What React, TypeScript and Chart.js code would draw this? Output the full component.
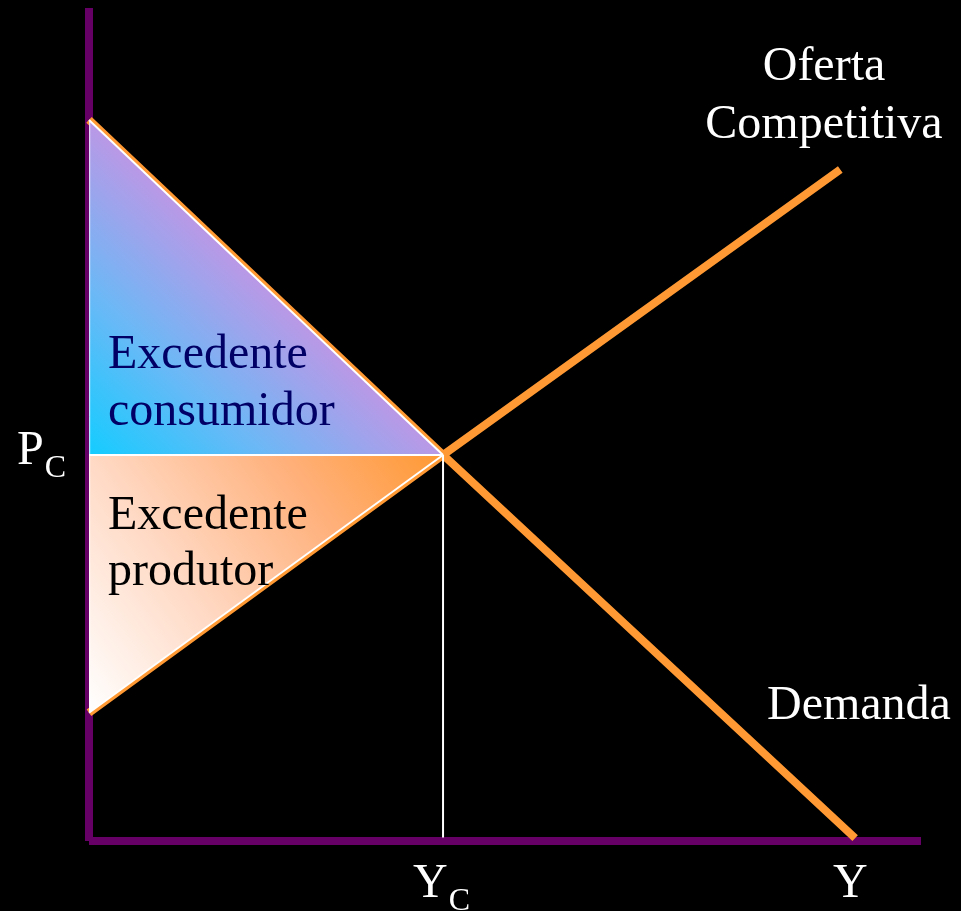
import React, { useEffect, useRef } from "react";
import { Chart, registerables } from "chart.js";

Chart.register(...registerables);

// ---- data ----
const demandQ = [0, 5, 10.82];
const demandP = [10.18, 5.45, 0.04];
const supplyQ = [0, 5, 10.61];
const supplyP = [1.81, 5.45, 9.48];
const equilibriumQ = 5;
const equilibriumP = 5.45;
const axisMaxQ = 11.75;
const axisMaxP = 11.76;

const xTickLabels = [
  { main: "Y", sub: "C" },
  { main: "Y", sub: "" },
];
const yTickLabels = [{ main: "P", sub: "C" }];
const supplyLabel = ["Oferta", "Competitiva"];
const demandLabel = ["Demanda"];
const consumerLabel = ["Excedente", "consumidor"];
const producerLabel = ["Excedente", "produtor"];

const ORANGE = "#ff9933";
const PURPLE = "#660066";
const FONT = "'Liberation Serif', 'Times New Roman', serif";

const pts = (xs: number[], ys: number[]) => xs.map((x, i) => ({ x, y: ys[i] }));

export default function App() {
  const ref = useRef<HTMLCanvasElement | null>(null);

  useEffect(() => {
    document.body.style.margin = "0";
    document.body.style.background = "#000";
    const canvas = ref.current!;

    const consumerGrad = (ctx: any) => {
      const chart = ctx.chart;
      if (!chart.chartArea) return "#6fb8f4";
      const sx = chart.scales.x, sy = chart.scales.y;
      const c = { x: sx.getPixelForValue(0), y: sy.getPixelForValue(equilibriumP) };
      const a = { x: sx.getPixelForValue(0), y: sy.getPixelForValue(demandP[0]) };
      const b = { x: sx.getPixelForValue(equilibriumQ), y: sy.getPixelForValue(equilibriumP) };
      const dx = b.x - a.x, dy = b.y - a.y;
      const t = ((c.x - a.x) * dx + (c.y - a.y) * dy) / (dx * dx + dy * dy);
      const f = { x: a.x + t * dx, y: a.y + t * dy };
      const g = chart.ctx.createLinearGradient(c.x, c.y, f.x, f.y);
      g.addColorStop(0, "#14ccff");
      g.addColorStop(0.5, "#6cb8f6");
      g.addColorStop(1, "#ba98e6");
      return g;
    };

    const producerGrad = (ctx: any) => {
      const chart = ctx.chart;
      if (!chart.chartArea) return "#ffc090";
      const sx = chart.scales.x, sy = chart.scales.y;
      const g = chart.ctx.createLinearGradient(
        sx.getPixelForValue(0), sy.getPixelForValue(supplyP[0]),
        sx.getPixelForValue(equilibriumQ), sy.getPixelForValue(equilibriumP)
      );
      g.addColorStop(0, "#ffffff");
      g.addColorStop(0.35, "#ffd9c4");
      g.addColorStop(0.7, "#ffb07a");
      g.addColorStop(1, "#ff9933");
      return g;
    };

    const textPlugin = {
      id: "texts",
      beforeDraw(chart: any) {
        const c = chart.ctx;
        c.save();
        c.fillStyle = "#000";
        c.fillRect(0, 0, chart.width, chart.height);
        c.restore();
      },
      afterDraw(chart: any) {
        const c = chart.ctx;
        const sx = chart.scales.x;
        c.save();
        c.textBaseline = "alphabetic";
        const big = `48px ${FONT}`;
        const small = `32px ${FONT}`;
        const sub = (lab: { main: string; sub: string }, x: number, y: number) => {
          c.font = big;
          c.textAlign = "left";
          c.fillText(lab.main, x, y);
          const w = c.measureText(lab.main).width;
          if (lab.sub) {
            c.font = small;
            c.fillText(lab.sub, x + w + 1, y + 13);
          }
        };
        c.fillStyle = "#ffffff";
        // axis labels
        sub(yTickLabels[0], 17, 464);
        sub(xTickLabels[0], sx.getPixelForValue(equilibriumQ) - 30, 897);
        sub(xTickLabels[1], 833, 897);
        // curve labels
        c.font = big;
        c.textAlign = "center";
        supplyLabel.forEach((t, i) => c.fillText(t, 824, 80 + i * 58));
        c.textAlign = "left";
        demandLabel.forEach((t, i) => c.fillText(t, 767, 719 + i * 57));
        c.fillStyle = "#000066";
        consumerLabel.forEach((t, i) => c.fillText(t, 108, 368 + i * 57));
        c.fillStyle = "#000000";
        producerLabel.forEach((t, i) => c.fillText(t, 108, 529 + i * 56));
        c.restore();
      },
    };

    const base = {
      showLine: true,
      pointRadius: 0,
      pointHoverRadius: 0,
      borderCapStyle: "butt" as const,
      clip: false as any,
      tension: 0,
    };

    const chart = new Chart(canvas, {
      type: "scatter",
      data: {
        datasets: [
          // axes
          { ...base, order: 10, data: [{ x: 0, y: 0 }, { x: 0, y: axisMaxP }], borderColor: PURPLE, borderWidth: 8, fill: false },
          { ...base, order: 10, data: [{ x: 0, y: 0 }, { x: axisMaxQ, y: 0 }], borderColor: PURPLE, borderWidth: 8, fill: false },
          // curves
          { ...base, order: 9, data: pts(demandQ, demandP), borderColor: ORANGE, borderWidth: 8, fill: false },
          { ...base, order: 9, data: pts(supplyQ, supplyP), borderColor: ORANGE, borderWidth: 8, fill: false },
          // surplus areas
          {
            ...base, order: 8,
            data: [{ x: 0, y: demandP[0] }, { x: equilibriumQ, y: equilibriumP }],
            borderColor: "#ffffff", borderWidth: 2,
            backgroundColor: consumerGrad as any,
            fill: { value: equilibriumP } as any,
          },
          {
            ...base, order: 8,
            data: [{ x: 0, y: supplyP[0] }, { x: equilibriumQ, y: equilibriumP }],
            borderColor: "#ffffff", borderWidth: 2,
            backgroundColor: producerGrad as any,
            fill: { value: equilibriumP } as any,
          },
          // white guide lines
          { ...base, order: 7, data: [{ x: 0, y: equilibriumP }, { x: equilibriumQ, y: equilibriumP }], borderColor: "#ffffff", borderWidth: 2, fill: false },
          { ...base, order: 7, data: [{ x: equilibriumQ, y: 0.05 }, { x: equilibriumQ, y: equilibriumP }], borderColor: "#ffffff", borderWidth: 2, fill: false },
          { ...base, order: 7, data: [{ x: 0.01, y: supplyP[0] }, { x: 0.01, y: demandP[0] }], borderColor: "rgba(255,255,255,0.8)", borderWidth: 1, fill: false },
        ],
      },
      options: {
        animation: false,
        responsive: false,
        maintainAspectRatio: false,
        layout: { padding: { left: 89, top: 8, right: 40, bottom: 70 } },
        scales: {
          x: { type: "linear", min: 0, max: axisMaxQ, display: false },
          y: { type: "linear", min: 0, max: axisMaxP, display: false },
        },
        plugins: {
          legend: { display: false },
          tooltip: { enabled: false },
          title: { display: false },
        },
        events: [],
      },
      plugins: [textPlugin],
    });

    return () => chart.destroy();
  }, []);

  return (
    <div style={{ width: 961, height: 911, background: "#000" }}>
      <canvas ref={ref} width={961} height={911} style={{ display: "block", width: 961, height: 911 }} />
    </div>
  );
}
